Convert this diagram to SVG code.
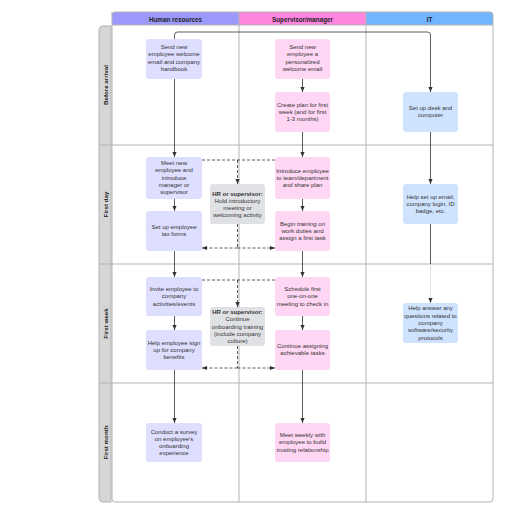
<svg xmlns="http://www.w3.org/2000/svg" width="516" height="516" viewBox="0 0 516 516">
<defs>
<style>
.hdr{font-family:"Liberation Sans",Arial,sans-serif;font-size:6.3px;font-weight:bold;fill:#222;text-anchor:middle;dominant-baseline:central}
.row{font-family:"Liberation Sans",Arial,sans-serif;font-size:6.2px;font-weight:bold;fill:#222;text-anchor:middle;dominant-baseline:central}
.t{font-family:"Liberation Sans",Arial,sans-serif;font-size:6px;fill:#333;text-anchor:middle;dominant-baseline:central}
.b{font-weight:bold}
.hr{fill:#dedeff}
.sup{fill:#ffd6f4}
.it{fill:#cfe3ff}
.gr{fill:#dfe1e4}
.grid{stroke:#b3b3b3;stroke-width:1;fill:none}
.c{stroke:#333;stroke-width:0.8;fill:none}
.d{stroke:#333;stroke-width:0.8;fill:none;stroke-dasharray:3,2}
</style>
<marker id="a" viewBox="0 0 6 6" refX="6" refY="3" markerWidth="5" markerHeight="5" orient="auto" markerUnits="userSpaceOnUse">
<path d="M0,0.5 L6,3 L0,5.5 Z" fill="#333"/>
</marker>
</defs>
<rect width="516" height="516" fill="#fff"/>

<g id="frame">
<path d="M112,15 Q112,12 115,12 H239 V25 H112 Z" fill="#9b99fb"/>
<path d="M239,12 H366 V25 H239 Z" fill="#ff85df"/>
<path d="M366,12 H490 Q493,12 493,15 V25 H366 Z" fill="#71b4ff"/>
<rect x="112" y="25" width="381" height="477" fill="#fff"/>
<path d="M111,26 H103 Q99,26 99,30 V498 Q99,502 103,502 H111 Z" fill="#d6d6d6" stroke="#b3b3b3" stroke-width="1"/>
<path class="grid" d="M112,12 V499 Q112,502 115,502 H490 Q493,502 493,499 V15 Q493,12 490,12 H115 Q112,12 112,15"/>
<path class="grid" d="M112,25 H493 M112,145 H493 M112,264 H493 M112,383 H493 M239,12 V502 M366,12 V502 M99,145 H112 M99,264 H112 M99,383 H112"/>
<text class="hdr" x="175.5" y="19.3">Human resources</text>
<text class="hdr" x="302.5" y="19.3">Supervisor/manager</text>
<text class="hdr" x="429.5" y="19.3">IT</text>
<text class="row" transform="translate(105.3,85) rotate(-90)">Before arrival</text>
<text class="row" transform="translate(105.3,204.5) rotate(-90)">First day</text>
<text class="row" transform="translate(105.3,323.5) rotate(-90)">First week</text>
<text class="row" transform="translate(105.3,442.5) rotate(-90)">First month</text>
</g>

<g id="connectors">
<path class="c" d="M174.5,39 V35 Q174.5,32 177.5,32 H427.5 Q430.5,32 430.5,35 V92" marker-end="url(#a)"/>
<path class="c" d="M174.5,79 V157" marker-end="url(#a)"/>
<path class="c" d="M174.5,199 V211" marker-end="url(#a)"/>
<path class="c" d="M174.5,251 V277" marker-end="url(#a)"/>
<path class="c" d="M174.5,316 V330" marker-end="url(#a)"/>
<path class="c" d="M174.5,370 V423" marker-end="url(#a)"/>
<path class="c" d="M302.5,79 V92" marker-end="url(#a)"/>
<path class="c" d="M302.5,132 V157" marker-end="url(#a)"/>
<path class="c" d="M302.5,199 V211" marker-end="url(#a)"/>
<path class="c" d="M302.5,251 V277" marker-end="url(#a)"/>
<path class="c" d="M302.5,316 V330" marker-end="url(#a)"/>
<path class="c" d="M302.5,370 V423" marker-end="url(#a)"/>
<path class="c" d="M430.5,132 V184" marker-end="url(#a)"/>
<path class="c" d="M430.5,224 V264"/>
<path d="M430.5,264 V303" stroke="#dcdcdc" stroke-width="0.9" fill="none" marker-end="url(#a)"/>
<path class="d" d="M202,160 H275 M237.5,160 V184"/>
<path class="c" d="M237.5,180 V184" marker-end="url(#a)"/>
<path class="d" d="M237.5,224 V248 M237.5,248 H204 M237.5,248 H273"/>
<path class="c" d="M206,248 H202" marker-end="url(#a)"/>
<path class="c" d="M271,248 H275" marker-end="url(#a)"/>
<path class="d" d="M202,280 H275 M237.5,280 V307"/>
<path class="c" d="M237.5,303 V307" marker-end="url(#a)"/>
<path class="d" d="M237.5,346 V368 M237.5,368 H204 M237.5,368 H273"/>
<path class="c" d="M206,368 H202" marker-end="url(#a)"/>
<path class="c" d="M271,368 H275" marker-end="url(#a)"/>
</g>

<g id="n1"><rect class="hr" x="146" y="39" width="56" height="40" rx="3"/>
<text class="t" x="174" y="47"><tspan x="174" dy="0">Send new</tspan><tspan x="174" dy="7.3">employee welcome</tspan><tspan x="174" dy="7.3">email and company</tspan><tspan x="174" dy="7.3">handbook</tspan></text></g>

<g id="n2"><rect class="sup" x="275" y="39" width="55" height="40" rx="3"/>
<text class="t" x="302.5" y="47"><tspan x="302.5" dy="0">Send new</tspan><tspan x="302.5" dy="7.3">employee a</tspan><tspan x="302.5" dy="7.3">personalized</tspan><tspan x="302.5" dy="7.3">welcome email</tspan></text></g>

<g id="n3"><rect class="sup" x="275" y="92" width="55" height="40" rx="3"/>
<text class="t" x="302.5" y="104.5"><tspan x="302.5" dy="0">Create plan for first</tspan><tspan x="302.5" dy="7.3">week (and for first</tspan><tspan x="302.5" dy="7.3">1-3 months)</tspan></text></g>

<g id="n4"><rect class="it" x="403" y="92" width="55" height="40" rx="3"/>
<text class="t" x="430.5" y="108"><tspan x="430.5" dy="0">Set up desk and</tspan><tspan x="430.5" dy="7.3">computer</tspan></text></g>

<g id="n5"><rect class="hr" x="146" y="157" width="56" height="42" rx="3"/>
<text class="t" x="174" y="163"><tspan x="174" dy="0">Meet new</tspan><tspan x="174" dy="7.3">employee and</tspan><tspan x="174" dy="7.3">introduce</tspan><tspan x="174" dy="7.3">manager or</tspan><tspan x="174" dy="7.3">supervisor</tspan></text></g>

<g id="n6"><rect class="hr" x="146" y="211" width="56" height="40" rx="3"/>
<text class="t" x="174" y="227"><tspan x="174" dy="0">Set up employee</tspan><tspan x="174" dy="7.3">tax forms</tspan></text></g>

<g id="n7"><rect class="gr" x="210" y="184" width="55" height="40" rx="3"/>
<text class="t" x="237.5" y="193.5"><tspan x="237.5" dy="0" class="b">HR or supervisor:</tspan><tspan x="237.5" dy="7.3">Hold introductory</tspan><tspan x="237.5" dy="7.3">meeting or</tspan><tspan x="237.5" dy="7.3">welcoming activity</tspan></text></g>

<g id="n8"><rect class="sup" x="275" y="157" width="55" height="42" rx="3"/>
<text class="t" x="302.5" y="170.5"><tspan x="302.5" dy="0">Introduce employee</tspan><tspan x="302.5" dy="7.3">to team/department</tspan><tspan x="302.5" dy="7.3">and share plan</tspan></text></g>

<g id="n9"><rect class="sup" x="275" y="211" width="55" height="40" rx="3"/>
<text class="t" x="302.5" y="223.5"><tspan x="302.5" dy="0">Begin training on</tspan><tspan x="302.5" dy="7.3">work duties and</tspan><tspan x="302.5" dy="7.3">assign a first task</tspan></text></g>

<g id="n10"><rect class="it" x="403" y="184" width="55" height="40" rx="3"/>
<text class="t" x="430.5" y="196.5"><tspan x="430.5" dy="0">Help set up email,</tspan><tspan x="430.5" dy="7.3">company login, ID</tspan><tspan x="430.5" dy="7.3">badge, etc.</tspan></text></g>

<g id="n11"><rect class="hr" x="146" y="277" width="56" height="39" rx="3"/>
<text class="t" x="174" y="289"><tspan x="174" dy="0">Invite employee to</tspan><tspan x="174" dy="7.3">company</tspan><tspan x="174" dy="7.3">activities/events</tspan></text></g>

<g id="n12"><rect class="hr" x="146" y="330" width="56" height="40" rx="3"/>
<text class="t" x="174" y="342.5"><tspan x="174" dy="0">Help employee sign</tspan><tspan x="174" dy="7.3">up for company</tspan><tspan x="174" dy="7.3">benefits</tspan></text></g>

<g id="n13"><rect class="gr" x="210" y="307" width="55" height="39" rx="3"/>
<text class="t" x="237.5" y="312"><tspan x="237.5" dy="0" class="b">HR or supervisor:</tspan><tspan x="237.5" dy="7.3">Continue</tspan><tspan x="237.5" dy="7.3">onboarding training</tspan><tspan x="237.5" dy="7.3">(include company</tspan><tspan x="237.5" dy="7.3">culture)</tspan></text></g>

<g id="n14"><rect class="sup" x="275" y="277" width="55" height="39" rx="3"/>
<text class="t" x="302.5" y="289"><tspan x="302.5" dy="0">Schedule first</tspan><tspan x="302.5" dy="7.3">one-on-one</tspan><tspan x="302.5" dy="7.3">meeting to check in</tspan></text></g>

<g id="n15"><rect class="sup" x="275" y="330" width="55" height="40" rx="3"/>
<text class="t" x="302.5" y="346"><tspan x="302.5" dy="0">Continue assigning</tspan><tspan x="302.5" dy="7.3">achievable tasks</tspan></text></g>

<g id="n16"><rect class="it" x="403" y="303" width="55" height="40" rx="3"/>
<text class="t" x="430.5" y="308.3"><tspan x="430.5" dy="0">Help answer any</tspan><tspan x="430.5" dy="7.3">questions related to</tspan><tspan x="430.5" dy="7.3">company</tspan><tspan x="430.5" dy="7.3">software/security</tspan><tspan x="430.5" dy="7.3">protocols</tspan></text></g>

<g id="n17"><rect class="hr" x="146" y="423" width="56" height="39" rx="3"/>
<text class="t" x="174" y="431.5"><tspan x="174" dy="0">Conduct a survey</tspan><tspan x="174" dy="7.3">on employee's</tspan><tspan x="174" dy="7.3">onboarding</tspan><tspan x="174" dy="7.3">experience</tspan></text></g>

<g id="n18"><rect class="sup" x="275" y="423" width="55" height="39" rx="3"/>
<text class="t" x="302.5" y="435"><tspan x="302.5" dy="0">Meet weekly with</tspan><tspan x="302.5" dy="7.3">employee to build</tspan><tspan x="302.5" dy="7.3">trusting relationship</tspan></text></g>
</svg>
